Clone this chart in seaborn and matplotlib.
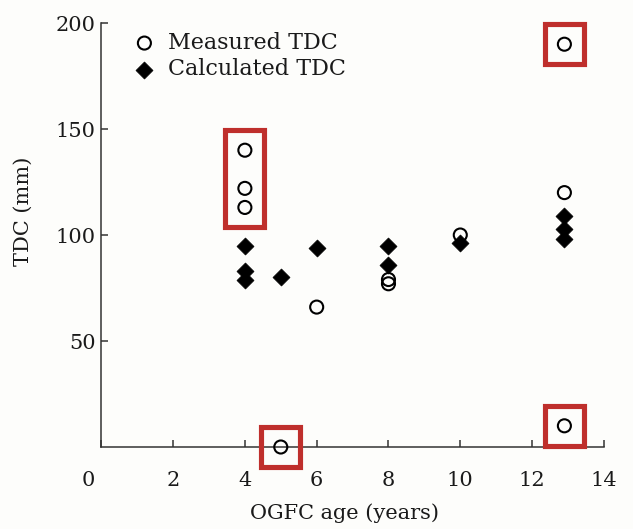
import matplotlib
matplotlib.use("Agg")
import matplotlib.pyplot as plt
import matplotlib.transforms as mtransforms
from matplotlib.patches import Rectangle
import seaborn as sns
import pandas as pd

# OGFC age (years) and TDC (mm)
measured_age = [4, 4, 4, 5, 6, 8, 8, 10, 12.9, 12.9, 12.9]
measured_tdc = [140, 122, 113, 0, 66, 79, 77, 100, 190, 120, 10]
calculated_age = [4, 4, 4, 5, 6, 8, 8, 10, 12.9, 12.9, 12.9]
calculated_tdc = [95, 83, 79, 80, 94, 95, 86, 96, 109, 103, 98]

# measured values flagged as unreliable, boxed in groups
flagged_groups = [
    [(4, 140), (4, 122), (4, 113)],
    [(5, 0)],
    [(12.9, 190)],
    [(12.9, 10)],
]

x_ticks = [0, 2, 4, 6, 8, 10, 12, 14]
y_ticks = [50, 100, 150, 200]

sns.set_theme(style="ticks")
plt.rcParams["font.family"] = ["DejaVu Serif"]

bg = "#fdfdfb"
fig = plt.figure(figsize=(6.33, 5.29), dpi=100, facecolor=bg)
ax = fig.add_axes([0.16, 0.155, 0.794, 0.8015])
ax.set_facecolor(bg)

meas = pd.DataFrame({"age": measured_age, "tdc": measured_tdc})
calc = pd.DataFrame({"age": calculated_age, "tdc": calculated_tdc})

sns.scatterplot(data=calc, x="age", y="tdc", marker="D", s=75, color="black",
                edgecolor="black", linewidth=0.5, label="Calculated TDC",
                ax=ax, clip_on=False, zorder=3)
sns.scatterplot(data=meas, x="age", y="tdc", marker="o", s=88, facecolor="none",
                edgecolor="black", linewidth=1.5, label="Measured TDC",
                ax=ax, clip_on=False, zorder=4)

red = "#bf2f2c"
for grp in flagged_groups:
    xs = [p[0] for p in grp]
    ys = [p[1] for p in grp]
    x0, x1 = min(xs) - 0.54, max(xs) + 0.54
    y0, y1 = min(ys) - 9.3, max(ys) + 9.3
    ax.add_patch(Rectangle((x0, y0), x1 - x0, y1 - y0, fill=False,
                           edgecolor=red, linewidth=3.7, clip_on=False, zorder=5))

ax.set_xlim(0, 14)
ax.set_ylim(0, 200)
ax.set_xticks(x_ticks)
ax.set_yticks(y_ticks)
sns.despine(ax=ax)
for side in ("left", "bottom"):
    ax.spines[side].set_linewidth(1.1)
    ax.spines[side].set_color("#333333")

ax.tick_params(axis="x", direction="in", length=5, width=1.1, color="#333333",
               pad=17, labelsize=15, labelcolor="#1a1a1a")
ax.tick_params(axis="y", direction="in", length=5, width=1.1, color="#333333",
               pad=4, labelsize=15, labelcolor="#1a1a1a")

# nudge the "0" label left, clear of the vertical axis
zero_lbl = ax.get_xticklabels()[0]
zero_lbl.set_transform(zero_lbl.get_transform() +
                       mtransforms.ScaledTranslation(-0.13, 0, fig.dpi_scale_trans))

ax.set_xlabel("OGFC age (years)", fontsize=15, color="#1a1a1a")
ax.set_ylabel("TDC (mm)", fontsize=15, color="#1a1a1a")
ax.xaxis.set_label_coords(0.483, -0.132)
ax.yaxis.set_label_coords(-0.137, 0.557)

handles, labels = ax.get_legend_handles_labels()
order = [labels.index("Measured TDC"), labels.index("Calculated TDC")]
leg = ax.legend([handles[i] for i in order], [labels[i] for i in order],
                loc="upper left", bbox_to_anchor=(0.046, 1.0), frameon=False,
                fontsize=16, handletextpad=0.55, labelspacing=0.2,
                handlelength=1.0, borderaxespad=0)
for t in leg.get_texts():
    t.set_color("#1a1a1a")

fig.savefig("out.png", dpi=100, facecolor=bg)
